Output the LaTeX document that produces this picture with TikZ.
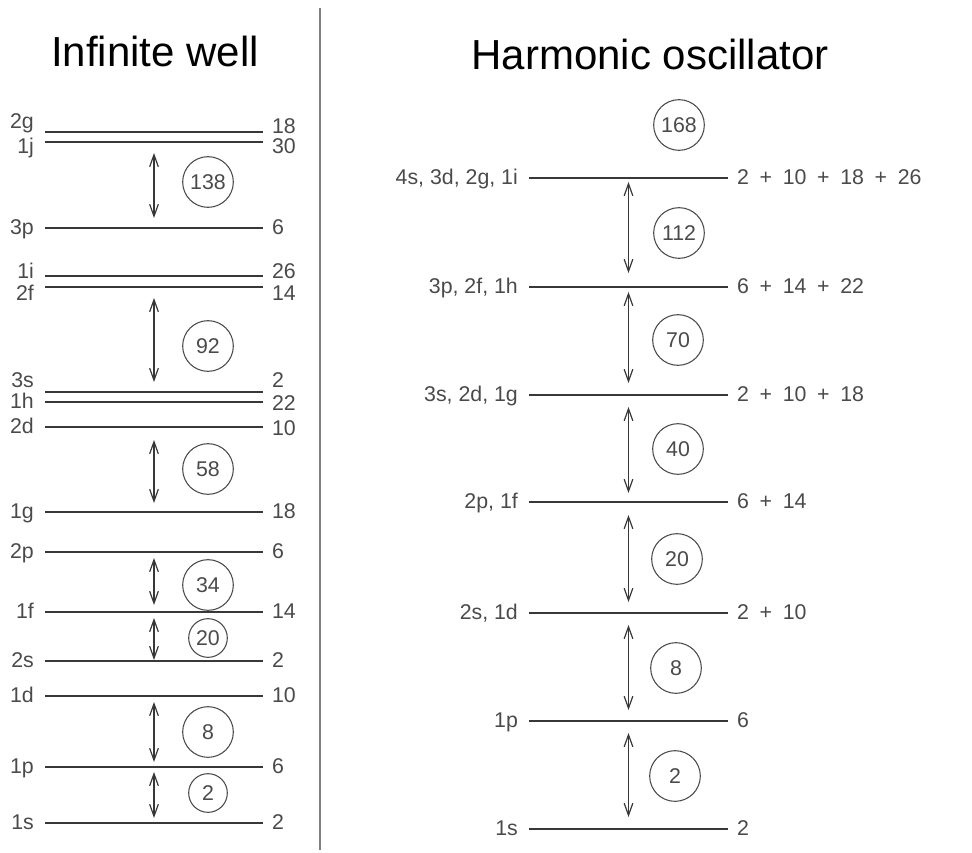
\documentclass[tikz,border=0pt]{standalone}
\usepackage{fontspec}
\setmainfont{Liberation Sans}
\usetikzlibrary{arrows.meta}

\definecolor{ink}{HTML}{383838}
\definecolor{txt}{HTML}{4A4A4A}
\newcommand{\plus}{\enspace+\enspace}

\tikzset{
  lev/.style={draw=ink, line width=1.7pt},
  llab/.style={anchor=base east, inner sep=0pt, xshift=-7.5pt, yshift=#1, text=txt, font=\fontsize{16}{19}\selectfont},
  llab/.default=-4.5pt,
  rlab/.style={anchor=base west, inner sep=0pt, xshift=6pt, yshift=#1, text=txt, font=\fontsize{16}{19}\selectfont},
  rlab/.default=-4.5pt,
  dbl/.style={{Straight Barb[length=9pt,width=6.5pt]}-{Straight Barb[length=9pt,width=6.5pt]}, draw=ink, line width=0.9pt, shorten <=7.5pt, shorten >=7.5pt},
  num/.style={circle, draw=txt, line width=0.8pt, minimum size=38pt, inner sep=0pt, text=txt, font=\fontsize{16}{19}\selectfont},
  small/.style={num, minimum size=29pt},
  title/.style={anchor=base, font=\fontsize{31.5}{36}\selectfont}
}

\begin{document}
\begin{tikzpicture}[x=0.75pt, y=-0.75pt]
\useasboundingbox (0,0) rectangle (972,853);

% titles and separator
\node[title] (tinf) at (155,66) {Infinite well};
\node[title] (thar) at (650,69) {Harmonic oscillator};
\draw[draw=gray, line width=1.1pt] (320,8) -- (320,850);

% infinite well levels
\draw[lev] (45,132) node[llab=3pt] (l2g) {2g} -- coordinate (m2g) (263,132) node[rlab=-0.75pt] (r2g) {18};
\draw[lev] (45,142) node[llab=-8.25pt] (l1j) {1j} -- coordinate (m1j) (263,142) node[rlab=-8.25pt] (r1j) {30};
\draw[lev] (45,228) node[llab] (l3p) {3p} -- coordinate (m3p) (263,228) node[rlab] (r3p) {6};
\draw[lev] (45,276) node[llab=-1.5pt] (l1i) {1i} -- coordinate (m1i) (263,276) node[rlab=-1.5pt] (r1i) {26};
\draw[lev] (45,287) node[llab=-9.75pt] (l2f) {2f} -- coordinate (m2f) (263,287) node[rlab=-9.75pt] (r2f) {14};
\draw[lev] (45,392) node[llab=3.75pt] (l3s) {3s} -- coordinate (m3s) (263,392) node[rlab=3.75pt] (r3s) {2};
\draw[lev] (45,402) node[llab] (l1h) {1h} -- coordinate (m1h) (263,402) node[rlab=-6pt] (r1h) {22};
\draw[lev] (45,427) node[llab] (l2d) {2d} -- coordinate (m2d) (263,427) node[rlab=-6pt] (r2d) {10};
\draw[lev] (45,512) node[llab] (l1g) {1g} -- coordinate (m1g) (263,512) node[rlab] (r1g) {18};
\draw[lev] (45,552) node[llab] (l2p) {2p} -- coordinate (m2p) (263,552) node[rlab] (r2p) {6};
\draw[lev] (45,612) node[llab] (l1f) {1f} -- coordinate (m1f) (263,612) node[rlab] (r1f) {14};
\draw[lev] (45,661) node[llab] (l2s) {2s} -- coordinate (m2s) (263,661) node[rlab] (r2s) {2};
\draw[lev] (45,696) node[llab] (l1d) {1d} -- coordinate (m1d) (263,696) node[rlab] (r1d) {10};
\draw[lev] (45,767) node[llab] (l1p) {1p} -- coordinate (m1p) (263,767) node[rlab] (r1p) {6};
\draw[lev] (45,823) node[llab] (l1s) {1s} -- coordinate (m1s) (263,823) node[rlab] (r1s) {2};

% infinite well gaps
\draw[dbl, shorten <=8.25pt] (m1j) -- (m3p);
\draw[dbl, shorten <=8.25pt] (m2f) -- (m3s);
\draw[dbl, shorten <=9.75pt, shorten >=6.75pt] (m2d) -- (m1g);
\draw[dbl, shorten <=4.5pt, shorten >=5.25pt] (m2p) -- (m1f);
\draw[dbl, shorten <=4.5pt, shorten >=0.75pt] (m1f) -- (m2s);
\draw[dbl, shorten <=4.5pt, shorten >=3.75pt] (m1d) -- (m1p);
\draw[dbl, shorten <=3.75pt, shorten >=3.75pt] (m1p) -- (m1s);

\node[num] (c138) at (208,182) {138};
\node[num] (c92) at (208,346) {92};
\node[num] (c58) at (208,469) {58};
\node[num] (c34) at (208,585) {34};
\node[small] (c20) at (208,638) {20};
\node[num] (c8) at (208,732) {8};
\node[small] (c2) at (208,793) {2};

% harmonic oscillator levels
\draw[lev] (529,178) node[llab] (h4) {4s, 3d, 2g, 1i} -- coordinate (n4) (728,178) node[rlab] (k4) {2\plus 10\plus 18\plus 26};
\draw[lev] (529,287) node[llab] (h3) {3p, 2f, 1h} -- coordinate (n3) (728,287) node[rlab] (k3) {6\plus 14\plus 22};
\draw[lev] (529,395) node[llab] (h2) {3s, 2d, 1g} -- coordinate (n2) (728,395) node[rlab] (k2) {2\plus 10\plus 18};
\draw[lev] (529,502) node[llab] (h1) {2p, 1f} -- coordinate (n1) (728,502) node[rlab] (k1) {6\plus 14};
\draw[lev] (529,613) node[llab] (hb) {2s, 1d} -- coordinate (nb) (728,613) node[rlab] (kb) {2\plus 10};
\draw[lev] (529,721) node[llab] (ha) {1p} -- coordinate (na) (728,721) node[rlab] (ka) {6};
\draw[lev] (529,829) node[llab] (h0) {1s} -- coordinate (n0) (728,829) node[rlab] (k0) {2};

% harmonic oscillator gaps
\draw[dbl, shorten <=3pt, shorten >=10.5pt] (n4) -- (n3);
\draw[dbl, shorten <=3.75pt, shorten >=9pt] (n3) -- (n2);
\draw[dbl, shorten <=9pt, shorten >=6.75pt] (n2) -- (n1);
\draw[dbl, shorten <=9.75pt, shorten >=8.25pt] (n1) -- (nb);
\draw[dbl, shorten <=9pt, shorten >=8.25pt] (nb) -- (na);
\draw[dbl, shorten <=9pt, shorten >=9pt] (na) -- (n0);

\node[num] (o168) at (679,125) {168};
\node[num] (o112) at (679,233) {112};
\node[num] (o70) at (678,340) {70};
\node[num] (o40) at (678,449) {40};
\node[num] (o20) at (677,559) {20};
\node[num] (o8) at (676,668) {8};
\node[num] (o2) at (675,776) {2};
\end{tikzpicture}
\end{document}
